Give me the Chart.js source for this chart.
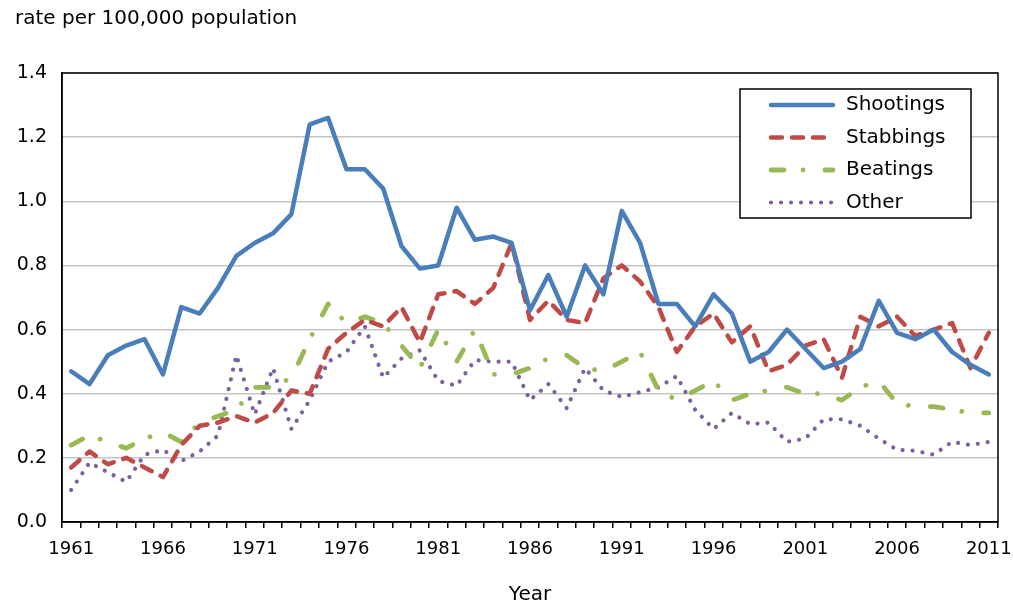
<!DOCTYPE html>
<html>
<head>
<meta charset="utf-8">
<script src="https://cdn.jsdelivr.net/npm/chart.js@4.4.1/dist/chart.umd.min.js"></script>
<style>
  html, body { margin: 0; padding: 0; background: #fff; }
  #wrap { width: 1013px; height: 603px; }
</style>
</head>
<body>
<div id="wrap"><canvas id="chart" width="1013" height="603"></canvas></div>
<script>
// Categories (years)
const years = ['1961','1962','1963','1964','1965','1966','1967','1968','1969','1970',
  '1971','1972','1973','1974','1975','1976','1977','1978','1979','1980',
  '1981','1982','1983','1984','1985','1986','1987','1988','1989','1990',
  '1991','1992','1993','1994','1995','1996','1997','1998','1999','2000',
  '2001','2002','2003','2004','2005','2006','2007','2008','2009','2010','2011'];
const tickYears = ['1961','1966','1971','1976','1981','1986','1991','1996','2001','2006','2011'];
const yTicks = [0, 0.2, 0.4, 0.6, 0.8, 1.0, 1.2, 1.4];

// Rates per 100,000 population
const shootings = [0.47, 0.43, 0.52, 0.55, 0.57, 0.46, 0.67, 0.65, 0.73, 0.83,
  0.87, 0.90, 0.96, 1.24, 1.26, 1.10, 1.10, 1.04, 0.86, 0.79,
  0.80, 0.98, 0.88, 0.89, 0.87, 0.66, 0.77, 0.64, 0.80, 0.71,
  0.97, 0.87, 0.68, 0.68, 0.61, 0.71, 0.65, 0.50, 0.53, 0.60,
  0.54, 0.48, 0.50, 0.54, 0.69, 0.59, 0.57, 0.60, 0.53, 0.49, 0.46];
const stabbings = [0.17, 0.22, 0.18, 0.20, 0.17, 0.14, 0.24, 0.30, 0.31, 0.33,
  0.31, 0.34, 0.41, 0.40, 0.54, 0.59, 0.63, 0.61, 0.67, 0.56,
  0.71, 0.72, 0.68, 0.73, 0.87, 0.63, 0.69, 0.63, 0.62, 0.76,
  0.80, 0.75, 0.67, 0.53, 0.61, 0.65, 0.56, 0.61, 0.47, 0.49,
  0.55, 0.57, 0.45, 0.64, 0.61, 0.64, 0.58, 0.60, 0.62, 0.48, 0.59];
const beatings = [0.24, 0.27, 0.25, 0.23, 0.26, 0.28, 0.25, 0.31, 0.33, 0.35,
  0.42, 0.42, 0.45, 0.57, 0.68, 0.62, 0.64, 0.62, 0.55, 0.48,
  0.60, 0.50, 0.60, 0.46, 0.46, 0.48, 0.51, 0.52, 0.48, 0.47,
  0.50, 0.53, 0.41, 0.38, 0.41, 0.44, 0.38, 0.40, 0.41, 0.42,
  0.40, 0.40, 0.38, 0.42, 0.44, 0.37, 0.36, 0.36, 0.35, 0.34, 0.34];
const other = [0.10, 0.185, 0.155, 0.125, 0.21, 0.225, 0.19, 0.22, 0.27, 0.52,
  0.335, 0.48, 0.29, 0.38, 0.50, 0.53, 0.61, 0.45, 0.51, 0.535,
  0.44, 0.425, 0.505, 0.50, 0.50, 0.38, 0.43, 0.355, 0.48, 0.41,
  0.39, 0.405, 0.42, 0.455, 0.35, 0.29, 0.34, 0.305, 0.31, 0.25,
  0.26, 0.32, 0.32, 0.30, 0.26, 0.225, 0.222, 0.21, 0.25, 0.24, 0.25];

Chart.defaults.font.family = "'DejaVu Sans', Verdana, sans-serif";
Chart.defaults.color = '#000';

// Black frame round the plot area
const frame = {
  id: 'frame',
  afterDatasetsDraw(chart) {
    const a = chart.chartArea, ctx = chart.ctx;
    ctx.save();
    ctx.strokeStyle = '#000';
    ctx.lineWidth = 1.5;
    ctx.strokeRect(a.left, a.top, a.right - a.left, a.bottom - a.top);
    ctx.restore();
  }
};

// Boxed legend sitting inside the plot, top right
const boxLegend = {
  id: 'boxLegend',
  afterDatasetsDraw(chart) {
    const ctx = chart.ctx;
    const box = { x: 740, y: 89, w: 231, h: 129 };
    ctx.save();
    ctx.fillStyle = '#fff';
    ctx.fillRect(box.x, box.y, box.w, box.h);
    ctx.strokeStyle = '#000';
    ctx.lineWidth = 1.5;
    ctx.strokeRect(box.x, box.y, box.w, box.h);
    ctx.font = "20px 'DejaVu Sans', Verdana, sans-serif";
    ctx.textBaseline = 'middle';
    chart.data.datasets.forEach((ds, i) => {
      const y = 105 + i * 32.5;
      ctx.beginPath();
      ctx.strokeStyle = ds.borderColor;
      ctx.lineWidth = ds.borderWidth;
      ctx.lineCap = 'round';
      ctx.setLineDash(ds.borderDash || []);
      ctx.moveTo(771, y);
      ctx.lineTo(833, y);
      ctx.stroke();
      ctx.setLineDash([]);
      ctx.fillStyle = '#000';
      ctx.fillText(ds.label, 846, y);
    });
    ctx.restore();
  }
};

const line = (label, data, color, dash, width) => ({
  label, data,
  borderColor: color,
  borderWidth: width,
  borderDash: dash,
  borderCapStyle: 'round',
  borderJoinStyle: 'round',
  pointRadius: 0,
  tension: 0,
  fill: false
});

new Chart(document.getElementById('chart'), {
  type: 'line',
  data: {
    labels: years,
    datasets: [
      line('Shootings', shootings, '#4a7ebb', [], 4.5),
      line('Stabbings', stabbings, '#be4b48', [11, 10], 4.5),
      line('Beatings', beatings, '#98b954', [13, 19, 0.01, 22], 4.8),
      line('Other', other, '#7d60a0', [0.01, 10], 4.2)
    ]
  },
  options: {
    responsive: false,
    animation: false,
    layout: { padding: { left: 15, right: 15, top: 0, bottom: 0 } },
    plugins: {
      legend: { display: false },
      tooltip: { enabled: false },
      title: {
        display: true,
        text: 'rate per 100,000 population',
        align: 'start',
        font: { size: 20, weight: 'normal' },
        padding: { top: 7, bottom: 42 }
      }
    },
    scales: {
      x: {
        offset: true,
        grid: {
          offset: true,
          drawOnChartArea: false,
          drawTicks: true,
          tickLength: 6,
          tickColor: '#000',
          lineWidth: 1.5
        },
        border: { display: true, color: '#000', width: 1.5 },
        ticks: {
          autoSkip: false,
          maxRotation: 0,
          padding: 11,
          font: { size: 18 },
          callback: (v, i) => tickYears.includes(years[i]) ? years[i] : ''
        },
        title: {
          display: true,
          text: 'Year',
          font: { size: 20, lineHeight: 1 },
          padding: { top: 0, bottom: -2 }
        },
        afterFit: (s) => {
          s.height = 81;
          s.paddingLeft = 0;
          s.paddingRight = 0;
        }
      },
      y: {
        min: 0,
        max: 1.4,
        afterBuildTicks: (s) => { s.ticks = yTicks.map(v => ({ value: v })); },
        grid: { color: '#c4c4c4', lineWidth: 1.5, drawTicks: false },
        border: { display: true, color: '#000', width: 1.5 },
        ticks: {
          padding: 15,
          font: { size: 19 },
          callback: (v) => Number(v).toFixed(1)
        },
        afterFit: (s) => { s.width = 47; }
      }
    }
  },
  plugins: [frame, boxLegend]
});
</script>
</body>
</html>
